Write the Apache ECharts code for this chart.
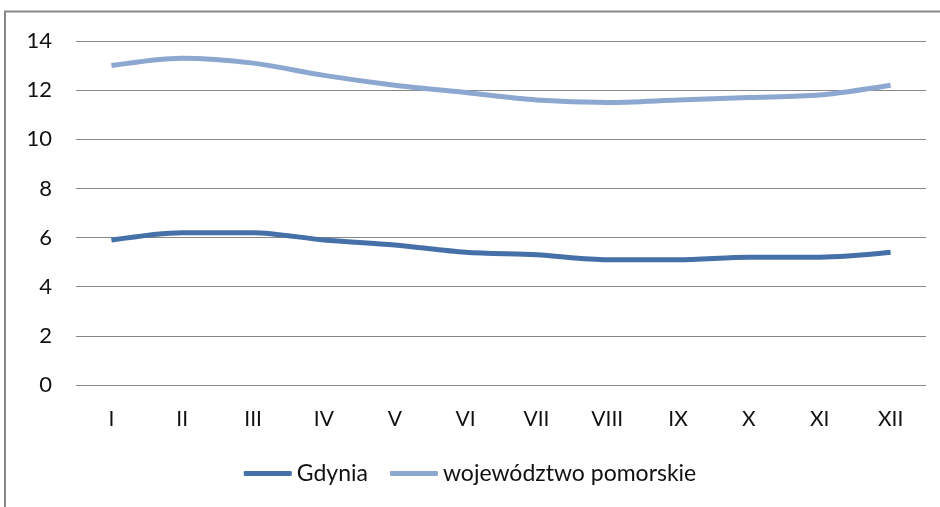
<!DOCTYPE html>
<html>
<head>
<meta charset="utf-8">
<script src="https://cdn.jsdelivr.net/npm/echarts@6/dist/echarts.min.js"></script>
<style>
html,body{margin:0;padding:0;background:#fff;}
#chart{width:940px;height:507px;}
</style>
</head>
<body>
<div id="chart"></div>
<script>
const categories = ['I','II','III','IV','V','VI','VII','VIII','IX','X','XI','XII'];
const gdynia = [5.9, 6.2, 6.2, 5.9, 5.7, 5.4, 5.3, 5.1, 5.1, 5.2, 5.2, 5.4];
const pomorskie = [13.0, 13.3, 13.1, 12.6, 12.2, 11.9, 11.6, 11.5, 11.6, 11.7, 11.8, 12.2];
const seriesNames = ['Gdynia', 'województwo pomorskie'];
const yTicks = {min: 0, max: 14, interval: 2};

const FONT = 'Lato, "Open Sans", sans-serif';
const chart = echarts.init(document.getElementById('chart'), null, {renderer: 'canvas'});
chart.setOption({
  animation: false,
  backgroundColor: '#ffffff',
  graphic: [{
    type: 'rect', silent: true,
    shape: {x: 5, y: 11.5, width: 1000, height: 1000},
    style: {fill: 'none', stroke: '#878787', lineWidth: 2}
  }],
  grid: {left: 76, right: 14, top: 41, bottom: 122, containLabel: false},
  legend: {
    bottom: 17, left: 'center',
    itemWidth: 48, itemHeight: 5, itemGap: 22,
    icon: 'roundRect',
    textStyle: {fontFamily: FONT, fontSize: 23, color: '#111'},
    data: seriesNames
  },
  xAxis: {
    type: 'category', data: categories, boundaryGap: true,
    axisLine: {show: false}, axisTick: {show: false},
    axisLabel: {fontFamily: FONT, fontSize: 21, color: '#111', margin: 24}
  },
  yAxis: {
    type: 'value', min: yTicks.min, max: yTicks.max, interval: yTicks.interval,
    axisLine: {show: false}, axisTick: {show: false},
    axisLabel: {fontFamily: FONT, fontSize: 22, color: '#111', margin: 24},
    splitLine: {lineStyle: {color: '#878787', width: 1}}
  },
  series: [
    {name: seriesNames[0], type: 'line', data: gdynia, smooth: 0.3, symbol: 'none',
     color: '#4570a8', lineStyle: {width: 5, color: '#4570a8'}},
    {name: seriesNames[1], type: 'line', data: pomorskie, smooth: 0.3, symbol: 'none',
     color: '#8ca7d0', lineStyle: {width: 5, color: '#8ca7d0'}}
  ]
});
</script>
</body>
</html>
